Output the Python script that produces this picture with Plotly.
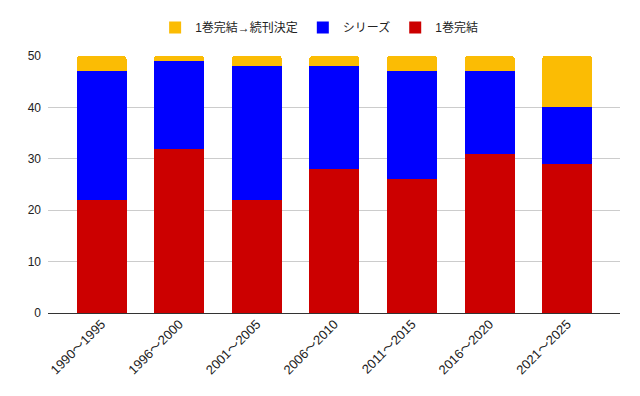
import plotly.graph_objects as go

categories = ["1990～1995", "1996～2000", "2001～2005", "2006～2010", "2011～2015", "2016～2020", "2021～2025"]
single_done = [22, 32, 22, 28, 26, 31, 29]
series = [25, 17, 26, 20, 21, 16, 11]
single_to_cont = [3, 1, 2, 2, 3, 3, 10]
y_ticks = [0, 10, 20, 30, 40, 50]

names = ["1巻完結", "シリーズ", "1巻完結→続刊決定"]
colors = ["#cc0000", "#0000ff", "#fbbc04"]
values = [single_done, series, single_to_cont]

fig = go.Figure()
for n, c, v in zip(names, colors, values):
    fig.add_trace(go.Bar(x=categories, y=v, name=n, marker_color=c, marker_line_width=0,
                         showlegend=False, legendgroup=n))
for n, c in zip(names, colors):
    fig.add_trace(go.Scatter(x=[None], y=[None], mode="markers", name=n, legendgroup=n,
                             marker=dict(symbol="square", size=12, color=c)))

fig.update_layout(
    width=640, height=396,
    barmode="stack",
    bargap=0.356,
    barcornerradius=3,
    plot_bgcolor="white",
    paper_bgcolor="white",
    font=dict(family="Liberation Sans, Arial, Noto Sans CJK JP", size=12, color="#222222"),
    margin=dict(l=40, r=28, t=47.5, b=91, autoexpand=False),
    legend=dict(orientation="h", x=0.474, xanchor="center", y=1.111, yanchor="middle",
                traceorder="reversed", font=dict(size=12, color="#222222"),
                itemwidth=30),
    xaxis=dict(type="category", range=[-0.69, 6.68], tickangle=-45, showgrid=False,
               automargin=False, showline=False, ticks="",
               tickfont=dict(size=13, color="#222222")),
    yaxis=dict(range=[0, 50], tickvals=y_ticks, showgrid=True, gridcolor="#cccccc",
               automargin=False, zeroline=True, zerolinecolor="#333333", zerolinewidth=1,
               ticks="", ticklabelstandoff=6, tickfont=dict(size=12, color="#222222")),
)

fig.write_html("out.html")
